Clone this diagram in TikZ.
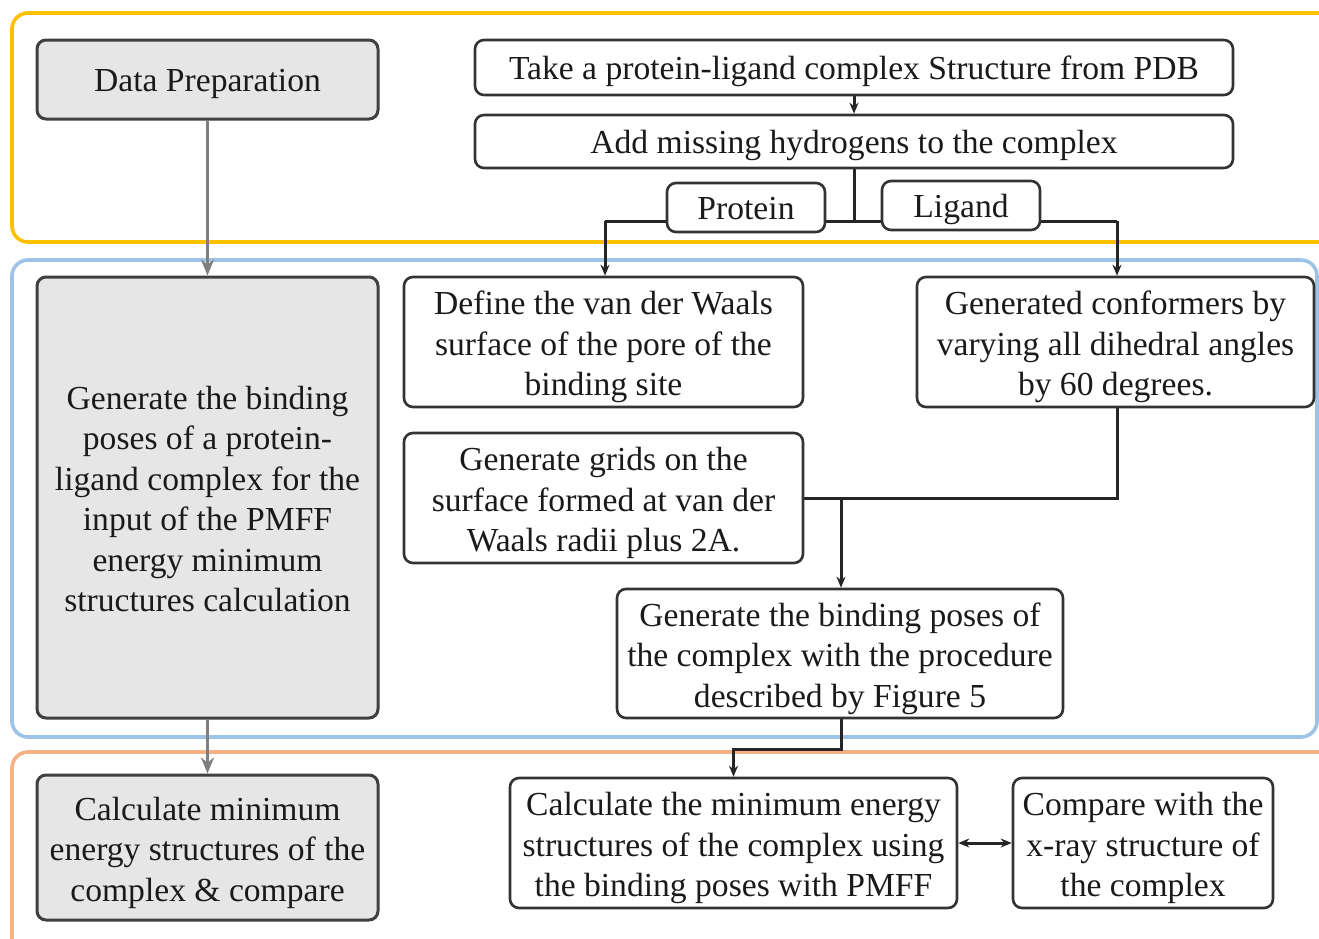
\documentclass[tikz,border=0pt]{standalone}
\usepackage{fontspec}
\setmainfont{Liberation Serif}
\usetikzlibrary{arrows.meta}
\definecolor{secY}{HTML}{FFC000}
\definecolor{secB}{HTML}{9DC3E6}
\definecolor{secO}{HTML}{F4B183}
\definecolor{grayfill}{HTML}{E6E6E6}
\definecolor{grayline}{HTML}{404040}
\definecolor{arrgray}{HTML}{7F7F7F}
\definecolor{txt}{HTML}{1A1A1A}
\pgfdeclarelayer{bg}
\pgfdeclarelayer{mid}
\pgfsetlayers{bg,mid,main}
\newcommand\mlines[1]{\raisebox{-5pt}[\height][\depth]{\begin{tabular}{@{}c@{}}#1\end{tabular}}}
\tikzset{
  base/.style={rounded corners=9pt, line width=2.6pt, inner sep=0pt,
    text=txt, font=\fontsize{33.6}{40.5}\selectfont},
  single/.style={execute at begin node={\rule{0pt}{32pt}},
    execute at end node={\rule[-8pt]{0pt}{1pt}}},
  whitebox/.style={base, draw=black!80, fill=white},
  graybox/.style={base, draw=grayline, fill=grayfill, line width=3pt},
  section/.style={rounded corners=16pt, line width=3.6pt},
  conn/.style={line width=3pt, black!85},
  conarrow/.style={conn, -{Stealth[length=11pt,width=9pt]}},
  dblarrow/.style={conn, {Stealth[length=11pt,width=9pt]}-{Stealth[length=11pt,width=9pt]}},
  grayarrow/.style={line width=3.4pt, arrgray, -{Stealth[length=16pt,width=13pt]}}
}
\begin{document}
\begin{tikzpicture}[x=1pt,y=-1pt]
\useasboundingbox (0,0) rectangle (1319,938);

% nodes
\node[graybox, single, minimum width=341pt, minimum height=79pt] (dp) at (207.5,79.5) {Data Preparation};
\node[whitebox, single, minimum width=758pt, minimum height=55pt] (take) at (854,67.5) {Take a protein-ligand complex Structure from PDB};
\node[whitebox, single, minimum width=758pt, minimum height=53pt] (add) at (854,141.5) {Add missing hydrogens to the complex};
\node[whitebox, single, minimum width=158pt, minimum height=49pt] (prot) at (746,207.5) {Protein};
\node[whitebox, single, minimum width=158pt, minimum height=49pt] (lig) at (961,205.5) {Ligand};
\node[whitebox, minimum width=399pt, minimum height=130pt] (define) at (603.5,342) {\mlines{Define the van der Waals\\surface of the pore of the\\binding site}};
\node[whitebox, minimum width=397pt, minimum height=130pt] (conf) at (1115.5,342) {\mlines{Generated conformers by\\varying all dihedral angles\\by 60 degrees.}};
\node[graybox, minimum width=341pt, minimum height=441pt] (gen) at (207.5,497.5) {\mlines{Generate the binding\\poses of a protein-\\ligand complex for the\\input of the PMFF\\energy minimum\\structures calculation}};
\node[whitebox, minimum width=399pt, minimum height=130pt] (grids) at (603.5,498) {\mlines{Generate grids on the\\surface formed at van der\\Waals radii plus 2A.}};
\node[whitebox, minimum width=446pt, minimum height=129pt] (poses) at (840,653.5) {\mlines{Generate the binding poses of\\the complex with the procedure\\described by Figure 5}};
\node[graybox, minimum width=341pt, minimum height=145pt] (calcg) at (207.5,847.5) {\mlines{Calculate minimum\\energy structures of the\\complex \& compare}};
\node[whitebox, minimum width=447pt, minimum height=130pt] (calc) at (733.5,843) {\mlines{Calculate the minimum energy\\structures of the complex using\\the binding poses with PMFF}};
\node[whitebox, minimum width=260pt, minimum height=130pt] (cmp) at (1143,843) {\mlines{Compare with the\\x-ray structure of\\the complex}};

\coordinate (split) at (854,221);
\coordinate (pl) at (605,221);
\coordinate (ll) at (1117,221);
\coordinate (jn) at (841,498);

\begin{pgfonlayer}{bg}
\begin{scope}
\clip (0,0) rectangle (1319,938);
\fill[white] (0,0) rectangle (1319,938);
\draw[section, secY] (12,13) rectangle (1345,242);
\draw[section, secB] (12,260) rectangle (1317,737);
\draw[section, secO] (12,752) rectangle (1345,960);
\end{scope}
\end{pgfonlayer}

\begin{pgfonlayer}{mid}
\draw[grayarrow] (dp.south) -- (gen.north);
\draw[grayarrow] (gen.south) -- (calcg.north);
\draw[conarrow] (take.south) -- (add.north);
\draw[conn] (add.south) -- (split);
\draw[conn] (pl) -- (ll);
\draw[conarrow] (pl) -- (pl |- define.north);
\draw[conarrow] (ll) -- (ll |- conf.north);
\draw[conn] (conf.south -| ll) |- (grids.east);
\draw[conarrow] (jn) -- (jn |- poses.north);
\draw[conarrow] (poses.south -| jn) -- ++(0,30) -| (calc.north);
\draw[dblarrow] (calc.east) -- (cmp.west);
\end{pgfonlayer}
\end{tikzpicture}
\end{document}
